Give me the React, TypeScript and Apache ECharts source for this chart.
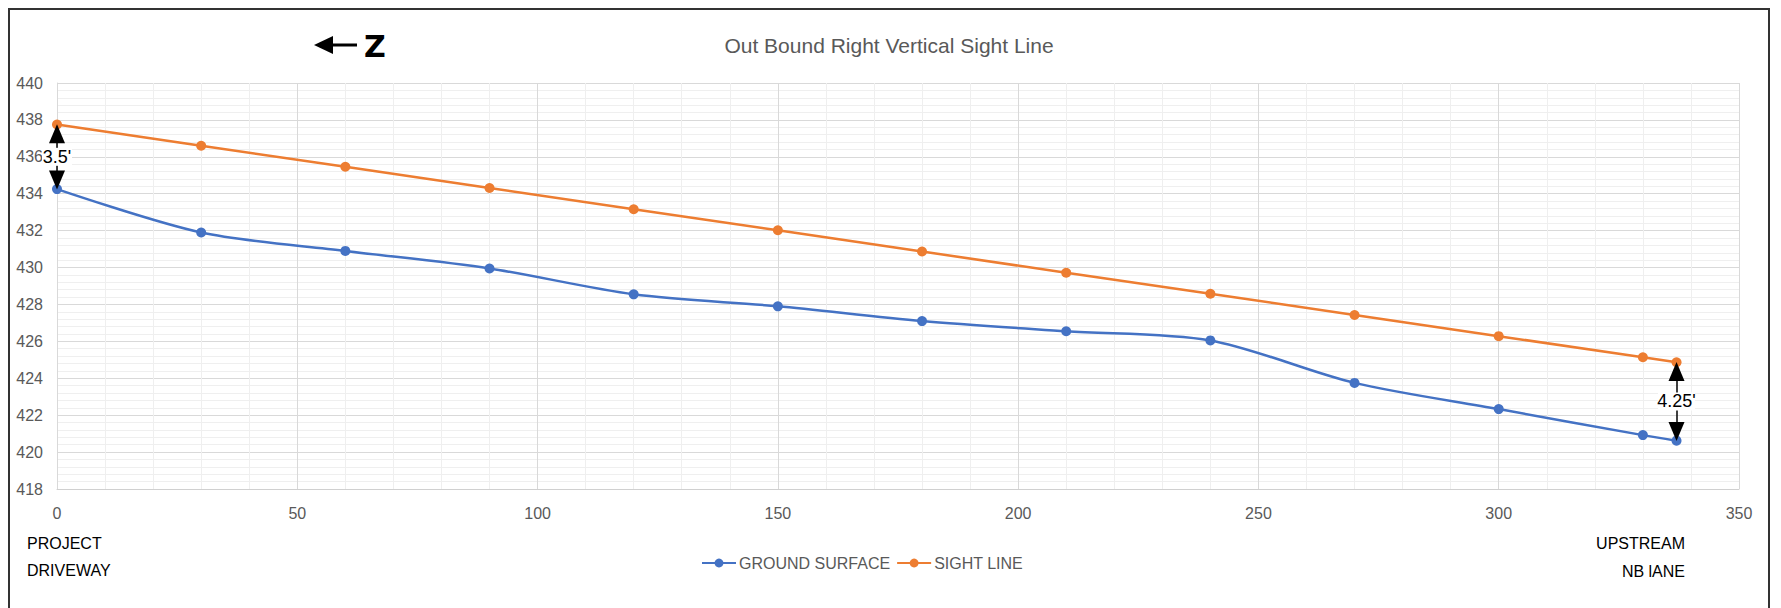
import React, { useEffect, useRef } from "react";
import * as echarts from "echarts";

const stations = [0, 30, 60, 90, 120, 150, 180, 210, 240, 270, 300, 330, 337];
const groundSurface = [434.25, 431.9, 430.9, 429.95, 428.55, 427.9, 427.1, 426.55, 426.05, 423.75, 422.33, 420.92, 420.62];
const sightLine = [437.75, 436.6, 435.46, 434.31, 433.16, 432.02, 430.87, 429.72, 428.58, 427.43, 426.28, 425.14, 424.87];
const clearanceIdx = [0, 12];
const clearanceLabels = ["3.5'", "4.25'"];
const seriesNames = ["GROUND SURFACE", "SIGHT LINE"];
const titleText = "Out Bound Right Vertical Sight Line";

const FONT = "'Liberation Sans Narrow', 'Liberation Sans', sans-serif";
const BLUE = "#4472C4";
const ORANGE = "#ED7D31";

export default function App() {
  const ref = useRef<HTMLDivElement>(null);
  useEffect(() => {
    document.body.style.margin = "0";
    const chart = echarts.init(ref.current!, null, { renderer: "svg" });
    const groundData = stations.map((x, i) => [x, groundSurface[i]]);
    const sightData = stations.map((x, i) => [x, sightLine[i]]);

    const markLines: any[] = [];
    const markPoints: any[] = [];
    clearanceIdx.forEach((idx, k) => {
      const x = stations[idx];
      const g = groundSurface[idx];
      const s = sightLine[idx];
      markLines.push([{ coord: [x, g + 0.4] }, { coord: [x, s - 0.4] }]);
      markPoints.push({
        coord: [x, s - 0.5],
        symbol: "triangle",
        symbolSize: [16, 19],
        itemStyle: { color: "#000" },
        label: { show: false },
      });
      markPoints.push({
        coord: [x, g + 0.5],
        symbol: "path://M0,0 L10,0 L5,12 Z",
        symbolSize: [16, 19],
        itemStyle: { color: "#000" },
        label: { show: false },
      });
      markPoints.push({
        coord: [x, (g + s) / 2],
        name: clearanceLabels[k],
        symbol: "rect",
        symbolSize: [clearanceLabels[k].length * 7 + 2, 18],
        itemStyle: { color: "#fff" },
        label: {
          show: true,
          position: "inside",
          formatter: clearanceLabels[k],
          color: "#000",
          fontSize: 18,
          fontFamily: FONT,
        },
      });
    });

    chart.setOption({
      animation: false,
      backgroundColor: "#fff",
      title: {
        text: titleText,
        left: 884,
        top: 30,
        textAlign: "center",
        textStyle: { color: "#595959", fontSize: 21, fontWeight: "normal", fontFamily: FONT },
      },
      legend: {
        data: seriesNames,
        left: 696,
        top: 550,
        itemWidth: 34,
        itemHeight: 11,
        itemGap: 6,
        textStyle: { color: "#595959", fontSize: 16, fontFamily: FONT, padding: [0, 0, 0, -2] },
      },
      grid: { left: 57, right: 42, top: 83, bottom: 119, containLabel: false },
      xAxis: {
        type: "value",
        min: 0,
        max: 350,
        interval: 50,
        axisLine: { show: true, lineStyle: { color: "#d0d0d0", width: 1 } },
        axisTick: { show: false },
        axisLabel: { color: "#595959", fontSize: 16, fontFamily: FONT, margin: 16 },
        splitLine: { show: true, lineStyle: { color: "#d9d9d9", width: 1 } },
        minorTick: { show: false, splitNumber: 5 },
        minorSplitLine: { show: true, lineStyle: { color: "#efefef", width: 1 } },
      },
      yAxis: {
        type: "value",
        min: 418,
        max: 440,
        interval: 2,
        axisLine: { show: true, lineStyle: { color: "#d9d9d9", width: 1 } },
        axisTick: { show: false },
        axisLabel: { color: "#595959", fontSize: 16, fontFamily: FONT, margin: 14 },
        splitLine: { show: true, lineStyle: { color: "#d9d9d9", width: 1 } },
        minorTick: { show: false, splitNumber: 5 },
        minorSplitLine: { show: true, lineStyle: { color: "#efefef", width: 1 } },
      },
      series: [
        {
          name: seriesNames[0],
          type: "line",
          data: groundData,
          smooth: 0.3,
          symbol: "circle",
          symbolSize: 10,
          lineStyle: { color: BLUE, width: 2.5 },
          itemStyle: { color: BLUE },
          z: 3,
        },
        {
          name: seriesNames[1],
          type: "line",
          data: sightData,
          symbol: "circle",
          symbolSize: 10,
          lineStyle: { color: ORANGE, width: 2.5 },
          itemStyle: { color: ORANGE },
          z: 2,
          markLine: {
            silent: true,
            symbol: ["none", "none"],
            label: { show: false },
            lineStyle: { color: "#000", width: 1.5, type: "solid" },
            data: markLines,
          },
          markPoint: {
            silent: true,
            data: markPoints,
          },
        },
      ],
      graphic: [
        {
          type: "rect",
          shape: { x: 9, y: 9, width: 1760, height: 640 },
          style: { fill: "none", stroke: "#333", lineWidth: 2 },
          silent: true,
        },
        {
          type: "polygon",
          shape: { points: [[314, 45], [333, 36], [333, 54]] },
          style: { fill: "#000" },
        },
        {
          type: "line",
          shape: { x1: 330, y1: 45, x2: 357, y2: 45 },
          style: { stroke: "#000", lineWidth: 3 },
        },
        {
          type: "text",
          x: 364,
          y: 46,
          style: {
            text: "Z",
            font: "900 30px 'DejaVu Sans', sans-serif",
            fill: "#000",
            verticalAlign: "middle",
          },
        },
        {
          type: "text",
          x: 27,
          y: 543,
          style: { text: "PROJECT", font: `16px ${FONT}`, fill: "#000", verticalAlign: "middle" },
        },
        {
          type: "text",
          x: 27,
          y: 570,
          style: { text: "DRIVEWAY", font: `16px ${FONT}`, fill: "#000", verticalAlign: "middle" },
        },
        {
          type: "text",
          x: 1685,
          y: 543,
          style: { text: "UPSTREAM", font: `16px ${FONT}`, fill: "#000", align: "right", verticalAlign: "middle" },
        },
        {
          type: "text",
          x: 1685,
          y: 571,
          style: { text: "NB lANE", font: `16px ${FONT}`, fill: "#000", align: "right", verticalAlign: "middle" },
        },
      ],
    });
    return () => chart.dispose();
  }, []);
  return <div ref={ref} style={{ width: 1781, height: 608 }} />;
}
